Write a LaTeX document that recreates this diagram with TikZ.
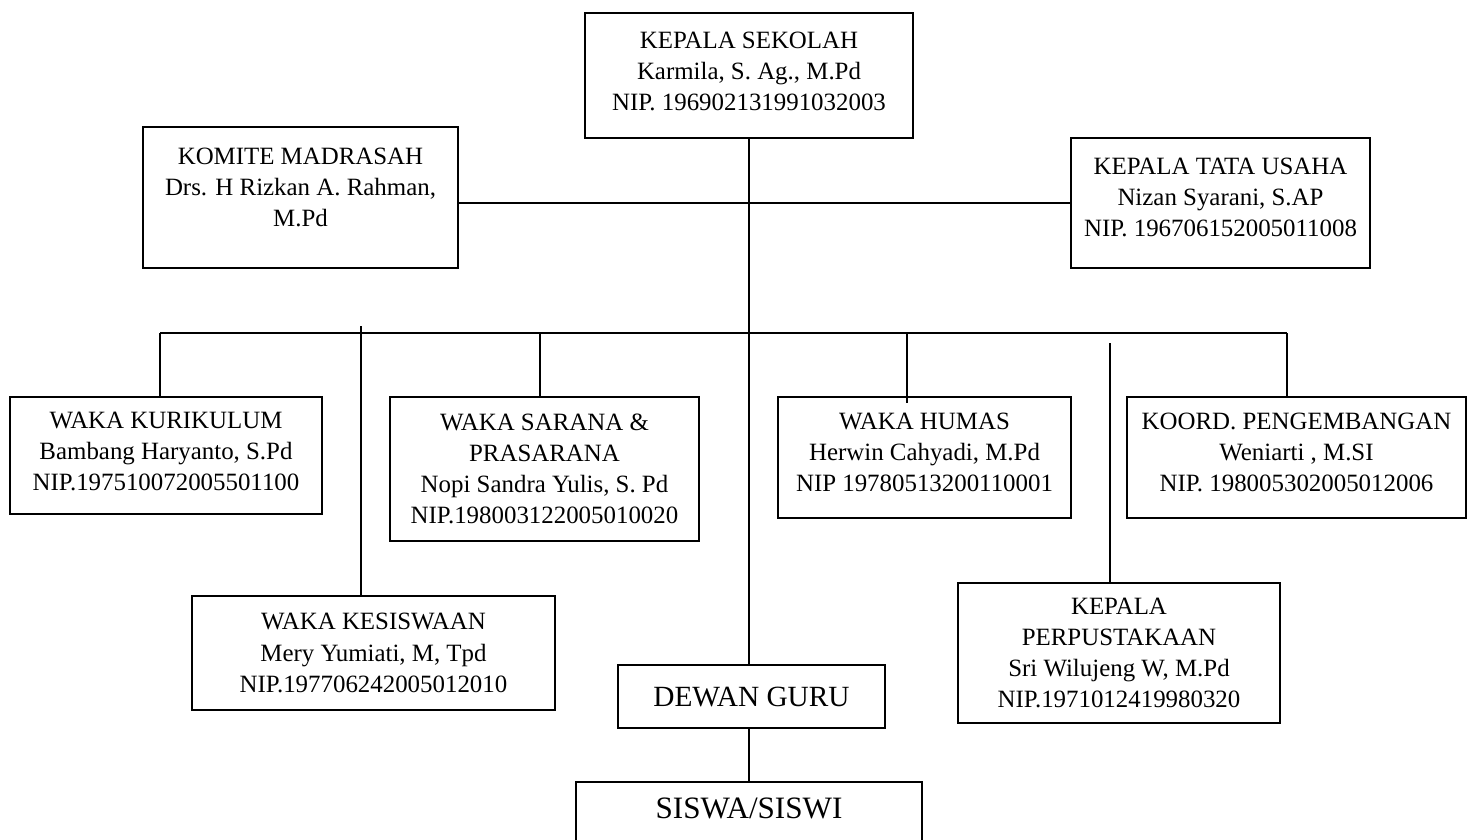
\documentclass[tikz,border=0pt]{standalone}
\usepackage{fontspec}
\setmainfont{Liberation Serif}
\begin{document}
\begin{tikzpicture}[x = 0.45pt, y = -0.45pt, line width = 0.8pt,
    box/.style 2 args = {draw, align = center, inner sep = 0pt, outer sep = 0pt,
        minimum width = #1*0.45pt, minimum height = #2*0.45pt,
        font = \fontsize{11.2}{14}\selectfont},
    naik/.style = {text depth = #1},
    besar/.style = {font = \fontsize{#1}{16}\selectfont}]
                    \useasboundingbox (0, 0) rectangle (1472, 839);
                    \node[box = {328}{125}, naik = 3.6pt] (kepsek) at (749, 75.5) {KEPALA SEKOLAH\\Karmila, S. Ag., M.Pd\\NIP. 196902131991032003};
                    \node[box = {315}{141}, naik = 9pt] (komite) at (300.5, 197.5) {KOMITE MADRASAH\\Drs. H Rizkan A. Rahman,\\M.Pd};
                    \node[box = {299}{130}, naik = 5.4pt] (ktu) at (1220.5, 203) {KEPALA TATA USAHA\\Nizan Syarani, S.AP\\NIP. 196706152005011008};
                    \node[box = {312}{117}, naik = 3.6pt] (kurikulum) at (166, 455.5) {WAKA KURIKULUM\\Bambang Haryanto, S.Pd\\NIP.197510072005501100};
                    \node[box = {309}{144}] (sarana) at (544.5, 469) {WAKA SARANA \&\\PRASARANA\\Nopi Sandra Yulis, S. Pd\\NIP.198003122005010020};
                    \node[box = {293}{121}, naik = 5pt] (humas) at (924.5, 457.5) {WAKA HUMAS\\Herwin Cahyadi, M.Pd\\NIP 19780513200110001};
                    \node[box = {339}{121}, naik = 5pt] (koord) at (1296.5, 457.5) {KOORD. PENGEMBANGAN\\Weniarti , M.SI\\NIP. 198005302005012006};
                    \node[box = {363}{114}] (kesiswaan) at (373.5, 653) {WAKA KESISWAAN\\Mery Yumiati, M, Tpd\\NIP.197706242005012010};
                    \node[box = {322}{140}] (perpus) at (1119, 653) {KEPALA\\PERPUSTAKAAN\\Sri Wilujeng W, M.Pd\\NIP.1971012419980320};
                    \node[box = {267}{63}, besar = 13.2] (dewan) at (751.5, 696.5) {DEWAN GURU};
                    \node[box = {346}{1}, besar = 14, anchor = north, text height = 16.2pt, text depth = 60pt] (siswa) at (749, 782) {SISWA/SISWI};
                    \coordinate (busL) at (160, 333);
                    \coordinate (busR) at (1287, 333);
                    \coordinate (dSarana) at (540, 333);
                    \coordinate (dHumas) at (907, 333);
                    \coordinate (kesTop) at (361, 326);
                    \coordinate (perTop) at (1110, 343);
                    \draw (kepsek.south) -- (kepsek.south |- dewan.north);
                    \draw (ktu.west) -- (ktu.west -| komite.east);
                    \draw (busL) -- (busR);
                    \draw (busL) -- (busL |- kurikulum.north);
                    \draw (dSarana) -- (dSarana |- sarana.north);
                    \draw (dHumas) -- ([yshift = -2.7pt]dHumas |- humas.north);
                    \draw (busR) -- (busR |- koord.north);
                    \draw (kesTop) -- (kesTop |- kesiswaan.north);
                    \draw (perTop) -- (perTop |- perpus.north);
                    \draw (siswa.north |- dewan.south) -- (siswa.north);
                \end{tikzpicture}
\end{document}
